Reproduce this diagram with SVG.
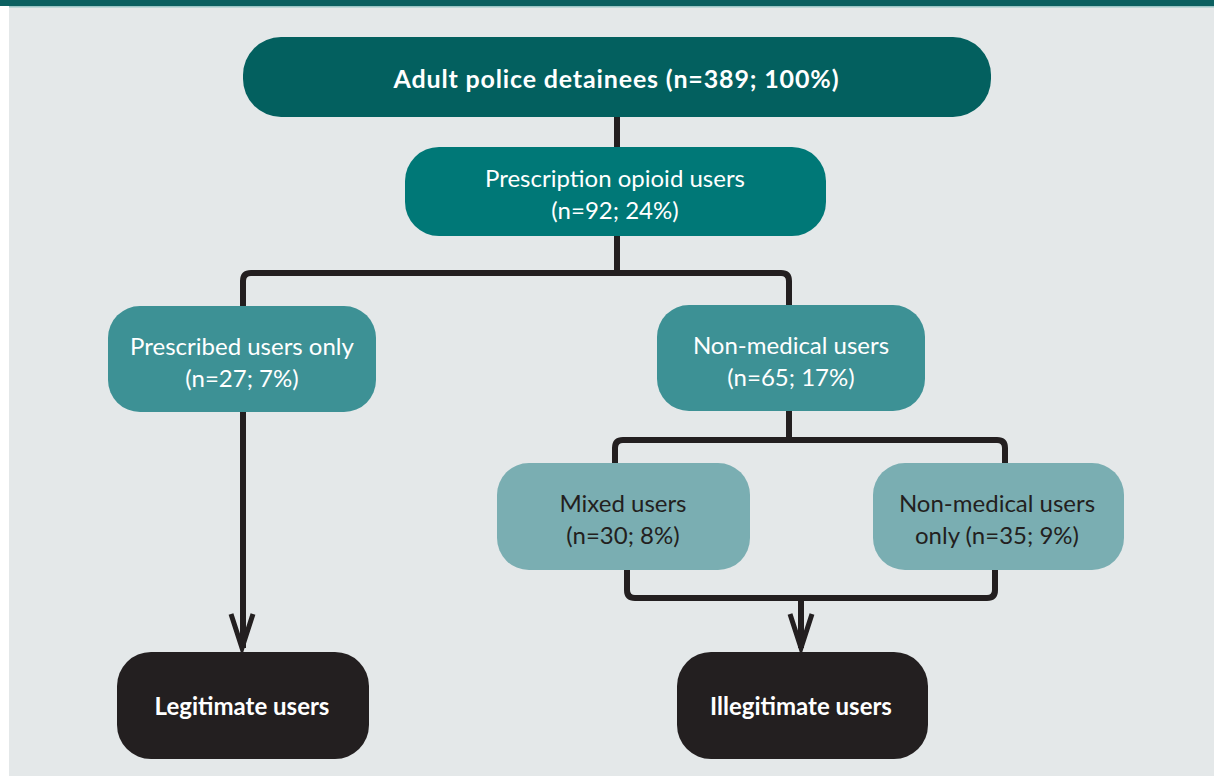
<svg xmlns="http://www.w3.org/2000/svg" width="1214" height="776" viewBox="0 0 1214 776">
<style>
.t{font-family:Lato,"Open Sans","Liberation Sans",sans-serif;font-size:24px;text-anchor:middle}
.b{font-weight:bold}
.w{fill:#ffffff}
.d{fill:#231f20}
.ln{fill:none;stroke:#231f20;stroke-width:6;stroke-linejoin:round}
.ah{fill:none;stroke:#231f20;stroke-width:5;stroke-linejoin:miter}
</style>
<rect x="0" y="0" width="1214" height="776" fill="#ffffff"/>
<rect x="9" y="0" width="1205" height="776" fill="#e4e8e9"/>
<rect x="0" y="0" width="1214" height="6" fill="#0b6060"/>
<rect x="9" y="6" width="1205" height="1.5" fill="#9cc6c6"/>
<g id="connectors">
<path class="ln" d="M617 116 V148"/>
<path class="ln" d="M617 235 V273"/>
<path class="ln" d="M243 308 V281 Q243 273 251 273 H781 Q789 273 789 281 V306"/>
<path class="ln" d="M243 411 V648"/>
<polyline class="ah" points="231,614 242,648 253,614"/>
<path class="ln" d="M789 410 V440"/>
<path class="ln" d="M615 464 V448 Q615 440 623 440 H997 Q1005 440 1005 448 V464"/>
<path class="ln" d="M627 569 V590 Q627 598 635 598 H987 Q995 598 995 590 V569"/>
<path class="ln" d="M801 598 V648"/>
<polyline class="ah" points="790,614 801,648 812,614"/>
</g>
<g id="n-adult">
<rect x="243" y="37" width="748" height="80" rx="38" fill="#03605f"/>
<text class="t b w" x="616" y="88" style="font-size:25px" textLength="445" lengthAdjust="spacing">Adult police detainees (n=389; 100%)</text>
</g>
<g id="n-prescription">
<rect x="405" y="147" width="421" height="89" rx="34" fill="#007877"/>
<text class="t w" x="615" y="187">Prescription opioid users</text>
<text class="t w" x="615" y="219">(n=92; 24%)</text>
</g>
<g id="n-prescribed">
<rect x="108" y="306" width="268" height="106" rx="32" fill="#3d9195"/>
<text class="t w" x="242" y="355">Prescribed users only</text>
<text class="t w" x="242" y="387">(n=27; 7%)</text>
</g>
<g id="n-nonmedical">
<rect x="657" y="305" width="268" height="106" rx="32" fill="#3d9195"/>
<text class="t w" x="791" y="354">Non-medical users</text>
<text class="t w" x="791" y="386">(n=65; 17%)</text>
</g>
<g id="n-mixed">
<rect x="497" y="463" width="253" height="107" rx="32" fill="#7aaeb2"/>
<text class="t d" x="623" y="512">Mixed users</text>
<text class="t d" x="623" y="544">(n=30; 8%)</text>
</g>
<g id="n-nonmedonly">
<rect x="873" y="463" width="251" height="107" rx="32" fill="#7aaeb2"/>
<text class="t d" x="997" y="512">Non-medical users</text>
<text class="t d" x="997" y="544">only (n=35; 9%)</text>
</g>
<g id="n-legit">
<rect x="117" y="652" width="252" height="107" rx="34" fill="#231f20"/>
<text class="t b w" x="242" y="715">Legitimate users</text>
</g>
<g id="n-illegit">
<rect x="677" y="652" width="251" height="107" rx="34" fill="#231f20"/>
<text class="t b w" x="801" y="715">Illegitimate users</text>
</g>
</svg>
